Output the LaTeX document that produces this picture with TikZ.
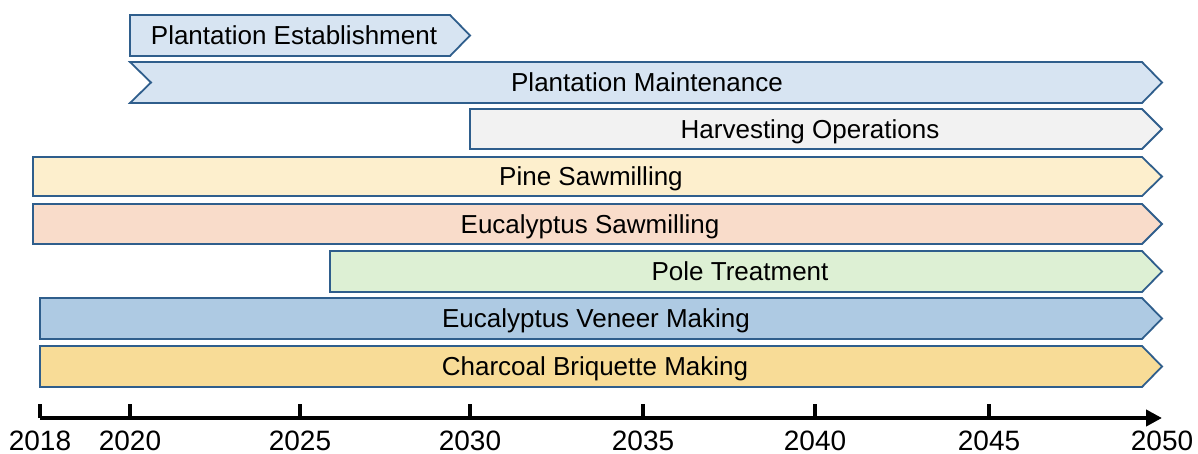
\documentclass[tikz,border=0pt]{standalone}
\usepackage{fontspec}
\setmainfont{Liberation Sans}
\usetikzlibrary{arrows.meta}
\definecolor{edgeblue}{HTML}{2F5E8C}
\definecolor{plantfill}{HTML}{D7E4F2}
\definecolor{harvfill}{HTML}{F2F2F2}
\definecolor{pinefill}{HTML}{FDEFCD}
\definecolor{eucfill}{HTML}{F9DCCA}
\definecolor{polefill}{HTML}{DDF0D4}
\definecolor{venfill}{HTML}{AECAE3}
\definecolor{charfill}{HTML}{F8DC97}
\tikzset{
  barline/.style={draw=edgeblue, line width=1.8pt, line join=miter},
  bartext/.style={anchor=base, inner sep=0pt, font=\fontsize{26}{30}\selectfont},
  yeartext/.style={anchor=base, inner sep=0pt, font=\fontsize{28}{32}\selectfont},
  axisline/.style={line width=4pt, -{Triangle[length=16pt,width=16pt]}},
  tickline/.style={line width=4pt},
}
% #1 name, #2 left, #3 flat end, #4 tip, #5 top, #6 bottom, #7 fill, #8 text x, #9 text
\newcommand\chevbar[9]{%
  \draw[barline, fill=#7] (#2,#5) -- (#3,#5) -- (#4,{(#5+#6)/2}) -- (#3,#6) -- (#2,#6) -- cycle;
  \node[bartext] (#1) at (#8,{(#5+#6)/2+9.3}) {#9};
}
\begin{document}
\begin{tikzpicture}[x=1pt,y=-1pt]
\useasboundingbox (0,0) rectangle (1198,454);
% bars
\chevbar{estab}{130}{450}{470}{15}{56}{plantfill}{294}{Plantation Establishment}
\draw[barline, fill=plantfill] (130,62) -- (1142,62) -- (1162,82.5) -- (1142,103) -- (130,103) -- (151,82.5) -- cycle;
\node[bartext] (maint) at (647,91.8) {Plantation Maintenance};
\chevbar{harv}{470}{1142}{1162}{109}{149}{harvfill}{810}{Harvesting Operations}
\chevbar{pine}{33}{1142}{1162}{157}{196}{pinefill}{591}{Pine Sawmilling}
\chevbar{eucsaw}{33}{1142}{1162}{204}{244}{eucfill}{590}{Eucalyptus Sawmilling}
\chevbar{pole}{330}{1142}{1162}{251}{292}{polefill}{740}{Pole Treatment}
\chevbar{veneer}{40}{1142}{1162}{298}{339}{venfill}{596}{Eucalyptus Veneer Making}
\chevbar{charcoal}{40}{1142}{1162}{346}{387}{charfill}{595}{Charcoal Briquette Making}
% axis
\coordinate (axstart) at (40,418);
\coordinate (axend) at (1162,418);
\draw[axisline] (axstart) -- (axend);
\foreach \x/\y/\nm in {40/2018/ya,130/2020/yb,300/2025/yc,470/2030/yd,643/2035/ye,815/2040/yf,989/2045/yg}{
  \coordinate (t\nm) at (\x,418);
  \coordinate (u\nm) at (\x,404);
  \draw[tickline] (t\nm) -- (u\nm);
  \node[yeartext] (\nm) at (\x,450) {\y};
}
\node[yeartext] (yh) at (1162,450) {2050};
\end{tikzpicture}
\end{document}
